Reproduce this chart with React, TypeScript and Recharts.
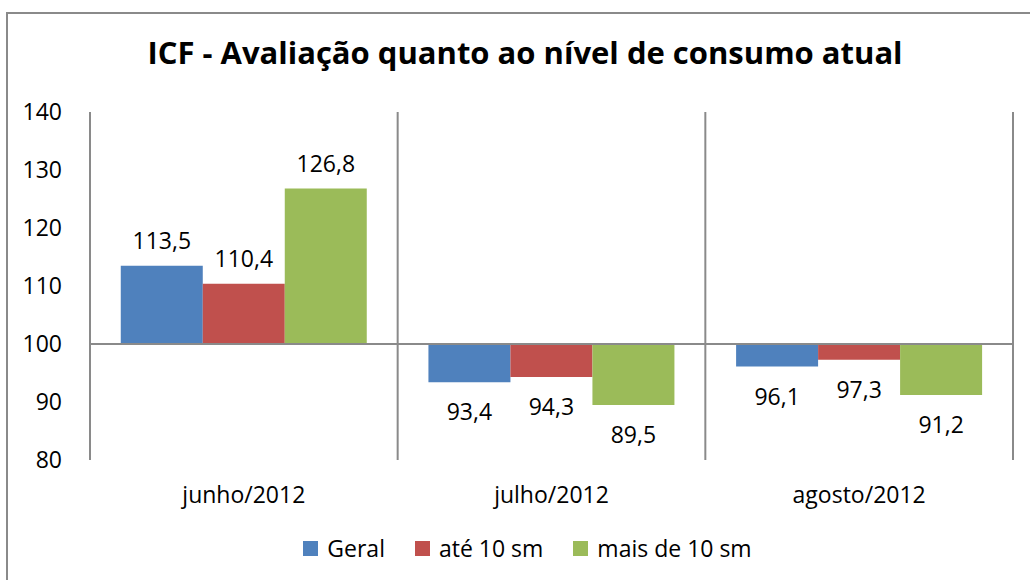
import React from "react"
import { BarChart, Bar, XAxis, YAxis, ReferenceLine, LabelList, Legend } from "recharts"

const categories = ["junho/2012", "julho/2012", "agosto/2012"]
const geral = [113.5, 93.4, 96.1]
const ate10 = [110.4, 94.3, 97.3]
const mais10 = [126.8, 89.5, 91.2]
const yTicks = [80, 90, 100, 110, 120, 130, 140]
const baseline = 100

const series = [
  { key: "geral", name: "Geral", color: "#4F81BD", values: geral },
  { key: "ate10", name: "até 10 sm", color: "#C0504D", values: ate10 },
  { key: "mais10", name: "mais de 10 sm", color: "#9BBB59", values: mais10 },
]

// each bar is a range starting at the 100 line
const rows = categories.map((cat, i) => {
  const row: any = { cat }
  series.forEach((s) => {
    row[s.key] = [baseline, s.values[i]]
    row[s.key + "_v"] = s.values[i]
  })
  return row
})

const font = "'Open Sans', sans-serif"
const gray = "#8a8a8a"
const fs = 23

const fmt = (v: number) => v.toFixed(1).replace(".", ",")

const renderLabel = (props: any) => {
  const { x, y, width, height, value } = props
  const top = Math.min(y, y + height)
  const bottom = Math.max(y, y + height)
  const up = value >= baseline
  return (
    <text
      x={x + width / 2}
      y={up ? top - 17 : bottom + 38}
      textAnchor="middle"
      fill="#000"
      fontSize={fs}
      fontFamily={font}
    >
      {fmt(value)}
    </text>
  )
}

const renderLegend = () => (
  <div
    style={{
      display: "flex",
      justifyContent: "center",
      alignItems: "center",
      height: 30,
      paddingLeft: 42,
      fontFamily: font,
      fontSize: fs,
      color: "#000",
    }}
  >
    {series.map((s) => (
      <div key={s.key} style={{ display: "flex", alignItems: "center", margin: "0 15px" }}>
        <span style={{ width: 15, height: 15, background: s.color, marginRight: 9, display: "inline-block" }} />
        <span>{s.name}</span>
      </div>
    ))}
  </div>
)

export default function App() {
  return (
    <div style={{ position: "absolute", left: 0, top: 0, width: 1030, height: 580, background: "#fff", overflow: "hidden" }}>
      <div
        style={{
          position: "absolute",
          left: 6,
          top: 12,
          width: 1100,
          height: 700,
          borderTop: `2px solid ${gray}`,
          borderLeft: `2px solid ${gray}`,
        }}
      />
      <div
        style={{
          position: "absolute",
          left: 20,
          width: 1010,
          top: 31,
          textAlign: "center",
          fontFamily: font,
          fontWeight: 700,
          fontSize: 31,
          color: "#000",
        }}
      >
        ICF - Avaliação quanto ao nível de consumo atual
      </div>
      <BarChart
        width={1030}
        height={580}
        data={rows}
        margin={{ top: 112, right: 17, left: 0, bottom: 17 }}
        barCategoryGap="10%"
        barGap={0}
      >
        <XAxis
          dataKey="cat"
          axisLine={false}
          tickLine={false}
          height={73}
          tickMargin={21}
          tick={{ fill: "#000", fontSize: fs, fontFamily: font }}
        />
        <YAxis
          domain={[80, 140]}
          ticks={yTicks}
          width={90}
          axisLine={{ stroke: gray, strokeWidth: 2 }}
          tickLine={false}
          tickMargin={22}
          tick={{ fill: "#000", fontSize: fs, fontFamily: font }}
        />
        {categories.slice(1).map((c) => (
          <ReferenceLine key={c} x={c} position="start" stroke={gray} strokeWidth={2} />
        ))}
        <ReferenceLine x={categories[categories.length - 1]} position="end" stroke={gray} strokeWidth={2} />
        <Legend verticalAlign="bottom" content={renderLegend} />
        {series.map((s) => (
          <Bar key={s.key} dataKey={s.key} name={s.name} fill={s.color} isAnimationActive={false}>
            <LabelList dataKey={s.key + "_v"} content={renderLabel} />
          </Bar>
        ))}
        <ReferenceLine y={baseline} stroke={gray} strokeWidth={2} />
      </BarChart>
    </div>
  )
}
